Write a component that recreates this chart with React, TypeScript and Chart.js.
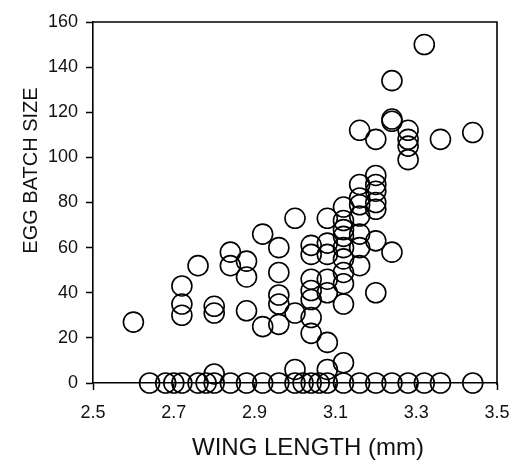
import React, { useEffect, useRef } from "react";
import { Chart, registerables } from "chart.js";

Chart.register(...registerables);

// Egg batch size vs wing length
const wingLength: number[] = [
  // zero row
  2.64, 2.68, 2.70, 2.72, 2.76, 2.78, 2.80, 2.84, 2.88, 2.92, 2.96, 3.00, 3.02, 3.04, 3.06, 3.08,
  3.12, 3.16, 3.20, 3.24, 3.28, 3.32, 3.36, 3.44,
  // just above zero
  2.80, 3.00, 3.08, 3.12,
  // rest
  2.60,
  2.72, 2.72, 2.72,
  2.76,
  2.80, 2.80,
  2.84, 2.84,
  2.88, 2.88, 2.88,
  2.92, 2.92,
  2.96, 2.96, 2.96, 2.96, 2.96,
  3.00, 3.00,
  3.04, 3.04, 3.04, 3.04, 3.04, 3.04, 3.04,
  3.08, 3.08, 3.08, 3.08, 3.08, 3.08,
  3.12, 3.12, 3.12, 3.12, 3.12, 3.12, 3.12, 3.12, 3.12,
  3.16, 3.16, 3.16, 3.16, 3.16, 3.16, 3.16, 3.16,
  3.20, 3.20, 3.20, 3.20, 3.20, 3.20, 3.20, 3.20,
  3.24, 3.24, 3.24, 3.24,
  3.28, 3.28, 3.28, 3.28,
  3.32,
  3.36,
  3.44,
];

const eggBatchSize: number[] = [
  0, 0, 0, 0, 0, 0, 0, 0, 0, 0, 0, 0, 0, 0, 0, 0,
  0, 0, 0, 0, 0, 0, 0, 0,
  4, 6, 6, 9,
  27,
  43, 35, 30,
  52,
  34, 31,
  58, 52,
  54, 47, 32,
  66, 25,
  60, 49, 39, 35, 26,
  73, 31,
  61, 57, 46, 41, 37, 29, 22,
  73, 62, 57, 46, 40, 18,
  78, 72, 68, 65, 60, 55, 49, 44, 35,
  112, 88, 82, 79, 74, 66, 60, 52,
  108, 92, 88, 85, 80, 77, 63, 40,
  134, 117, 116, 58,
  112, 108, 105, 99,
  150,
  108,
  111,
];

const xTitle = "WING LENGTH (mm)";
const yTitle = "EGG BATCH SIZE";
const xMin = 2.5;
const xMax = 3.5;
const xStep = 0.2;
const yMin = 0;
const yMax = 160;
const yStep = 20;

const FONT = '"Liberation Sans", Arial, sans-serif';

const framePlugin = {
  id: "frameAndTitles",
  afterDraw(chart: any) {
    const { ctx, chartArea: a } = chart;
    ctx.save();
    ctx.strokeStyle = "#000";
    ctx.lineWidth = 1.6;
    ctx.beginPath();
    ctx.moveTo(a.left, a.top);
    ctx.lineTo(a.right, a.top);
    ctx.lineTo(a.right, a.bottom + 2);
    ctx.stroke();

    ctx.fillStyle = "#111";
    ctx.textAlign = "center";
    ctx.textBaseline = "alphabetic";
    ctx.font = `24px ${FONT}`;
    ctx.fillText(xTitle, (a.left + a.right) / 2 + 13, a.bottom + 72);

    ctx.translate(a.left - 56, (a.top + a.bottom) / 2 - 32);
    ctx.rotate(-Math.PI / 2);
    ctx.font = `20px ${FONT}`;
    ctx.fillText(yTitle, 0, 0);
    ctx.restore();
  },
};

export default function App() {
  const ref = useRef<HTMLCanvasElement | null>(null);

  useEffect(() => {
    if (!ref.current) return;
    const points = wingLength.map((x, i) => ({ x, y: eggBatchSize[i] }));
    const chart = new Chart(ref.current, {
      type: "scatter",
      data: {
        datasets: [
          {
            data: points,
            pointStyle: "circle",
            pointRadius: 10,
            pointHoverRadius: 10,
            pointBorderWidth: 1.6,
            borderColor: "#000",
            backgroundColor: "rgba(0,0,0,0)",
            clip: false as any,
          },
        ],
      },
      options: {
        animation: false,
        responsive: false,
        events: [],
        layout: { padding: { left: 0, top: 22, right: 18, bottom: 0 } },
        plugins: { legend: { display: false }, tooltip: { enabled: false } },
        scales: {
          x: {
            type: "linear",
            min: xMin,
            max: xMax,
            afterFit: (s: any) => {
              s.height = 77;
              s.paddingRight = 0;
              s.paddingLeft = 0;
            },
            grid: {
              display: true,
              drawOnChartArea: false,
              drawTicks: true,
              tickLength: 7,
              tickColor: "#000",
              tickWidth: 1.5,
            },
            border: { display: true, color: "#000", width: 1.6 },
            ticks: {
              stepSize: xStep,
              padding: 12,
              color: "#111",
              font: { family: FONT, size: 18 },
              maxRotation: 0,
              callback: (v: any) => Number(v).toFixed(1),
            },
          },
          y: {
            type: "linear",
            min: yMin,
            max: yMax,
            afterFit: (s: any) => {
              s.width = 93;
            },
            grid: {
              display: true,
              drawOnChartArea: false,
              drawTicks: true,
              tickLength: 7,
              tickColor: "#000",
              tickWidth: 1.5,
            },
            border: { display: true, color: "#000", width: 1.6 },
            ticks: {
              stepSize: yStep,
              padding: 8,
              color: "#111",
              font: { family: FONT, size: 18 },
            },
          },
        },
      },
      plugins: [framePlugin],
    });
    return () => chart.destroy();
  }, []);

  return (
    <div style={{ position: "absolute", left: 0, top: 0, width: 515, height: 460, background: "#fff" }}>
      <canvas ref={ref} width={515} height={460} />
    </div>
  );
}
